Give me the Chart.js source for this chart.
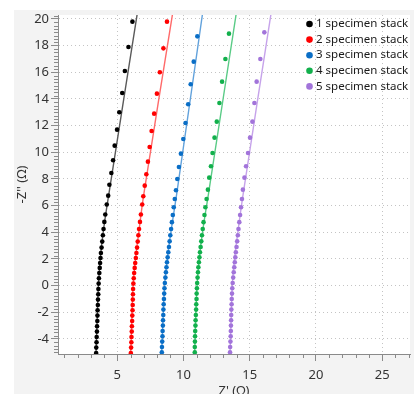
<!DOCTYPE html>
<html>
<head>
<meta charset="utf-8">
<script src="https://cdn.jsdelivr.net/npm/chart.js@4.4.0/dist/chart.umd.min.js"></script>
<style>
html, body { margin: 0; padding: 0; background: #fff; }
</style>
</head>
<body>
<canvas id="eis" width="414" height="394"></canvas>
<script>
// measured points, -Z'' vs Z'
var labels = ['1 specimen stack', '2 specimen stack', '3 specimen stack', '4 specimen stack', '5 specimen stack']

var s1Y = [-5.05,-4.65,-4.25,-3.85,-3.45,-3.05,-2.65,-2.25,-1.85,-1.45,-1.05,-0.65,-0.25,0.15,0.55,0.95,1.33,1.7,2.07,2.45,2.85,3.3,3.78,4.25,4.78,5.33,6.08,6.75,7.57,8.45,9.4,10.5,11.7,13.0,14.45,16.1,17.9,19.8]
var s1X = [3.40,3.41,3.43,3.44,3.46,3.47,3.49,3.50,3.51,3.53,3.54,3.56,3.57,3.59,3.61,3.64,3.67,3.70,3.73,3.76,3.81,3.86,3.91,3.96,4.02,4.09,4.20,4.31,4.40,4.55,4.68,4.80,4.98,5.15,5.37,5.57,5.84,6.14]

var s2Y = [-5.05,-4.65,-4.25,-3.85,-3.45,-3.05,-2.65,-2.25,-1.85,-1.45,-1.05,-0.65,-0.25,0.15,0.55,0.95,1.33,1.7,2.07,2.45,2.85,3.3,3.78,4.25,4.78,5.33,6.08,6.7,7.5,8.35,9.3,10.4,11.6,12.9,14.4,16.0,17.8,19.8]
var s2X = [6.02,6.04,6.06,6.07,6.09,6.10,6.12,6.13,6.15,6.16,6.17,6.18,6.19,6.21,6.24,6.27,6.31,6.35,6.40,6.44,6.49,6.54,6.59,6.64,6.71,6.78,6.88,6.96,7.07,7.19,7.31,7.44,7.59,7.78,7.99,8.21,8.48,8.75]

var s3Y = [-5.0,-4.6,-4.2,-3.8,-3.4,-3.0,-2.6,-2.2,-1.8,-1.4,-1.0,-0.6,-0.2,0.2,0.6,1.0,1.38,1.75,2.12,2.5,2.9,3.32,3.78,4.25,4.76,5.3,5.88,6.5,7.15,8.0,8.9,9.9,11.0,12.2,13.6,15.1,16.8,18.7]
var s3X = [8.36,8.37,8.39,8.41,8.42,8.44,8.45,8.47,8.48,8.50,8.52,8.54,8.56,8.59,8.63,8.67,8.71,8.75,8.80,8.85,8.90,8.95,9.00,9.06,9.12,9.19,9.26,9.34,9.43,9.53,9.65,9.80,9.98,10.15,10.35,10.54,10.77,11.04]

var s4Y = [-5.0,-4.6,-4.2,-3.8,-3.4,-3.0,-2.6,-2.2,-1.8,-1.4,-1.0,-0.6,-0.2,0.2,0.6,1.0,1.38,1.75,2.12,2.5,2.9,3.32,3.78,4.25,4.76,5.3,5.88,6.5,7.2,8.1,8.95,9.95,11.1,12.3,13.7,15.3,17.0,18.9]
var s4X = [10.85,10.85,10.86,10.87,10.88,10.90,10.91,10.93,10.95,10.96,10.98,10.99,11.01,11.03,11.06,11.09,11.12,11.16,11.20,11.24,11.29,11.34,11.39,11.45,11.51,11.58,11.65,11.74,11.84,11.94,12.07,12.19,12.34,12.51,12.71,12.91,13.16,13.43]

var s5Y = [-5.0,-4.6,-4.2,-3.8,-3.4,-3.0,-2.6,-2.2,-1.8,-1.4,-1.0,-0.6,-0.2,0.2,0.6,1.0,1.38,1.75,2.12,2.5,2.9,3.32,3.78,4.25,4.76,5.3,5.88,6.5,7.2,8.1,8.95,9.95,11.1,12.3,13.7,15.3,17.0,19.0]
var s5X = [13.51,13.52,13.54,13.56,13.57,13.58,13.59,13.60,13.61,13.63,13.64,13.66,13.68,13.71,13.75,13.79,13.83,13.87,13.91,13.95,14.00,14.05,14.10,14.15,14.21,14.27,14.34,14.41,14.48,14.60,14.72,14.87,15.02,15.20,15.35,15.52,15.80,16.10]

// fitted curves
var fitY = [-5.3, -3, 0, 2, 4, 7, 21]
var fit1X = [3.38, 3.46, 3.57, 3.71, 3.93, 4.38, 6.60]
var fit2X = [6.00, 6.08, 6.19, 6.37, 6.62, 7.02, 9.27]
var fit3X = [8.34, 8.43, 8.57, 8.77, 9.04, 9.50, 11.52]
var fit4X = [10.84, 10.90, 11.02, 11.18, 11.43, 11.90, 14.07]
var fit5X = [13.50, 13.58, 13.68, 13.85, 14.10, 14.52, 16.70]

var xTicks = [5, 10, 15, 20, 25]
var yTicks = [-4, -2, 0, 2, 4, 6, 8, 10, 12, 14, 16, 18, 20]

var dotColors = ['#000000', '#ff0000', '#0a6ec6', '#12b04c', '#a274da']
var lineColors = ['#5a5a5a', '#ff6a6a', '#62a2dc', '#5acb86', '#c6a3ea']

function pts(xs, ys) {
    var out = []
    for (let i in xs) out.push({x: xs[i], y: ys[i]})
    return out
}

var pointSets = [pts(s1X, s1Y), pts(s2X, s2Y), pts(s3X, s3Y), pts(s4X, s4Y), pts(s5X, s5Y)]
var fitSets = [pts(fit1X, fitY), pts(fit2X, fitY), pts(fit3X, fitY), pts(fit4X, fitY), pts(fit5X, fitY)]

var datasets = []
for (let i = 0; i < 5; i++) {
    datasets.push({
        label: labels[i],
        data: pointSets[i],
        showLine: false,
        pointRadius: 2.3,
        pointBorderWidth: 0,
        backgroundColor: dotColors[i],
        borderColor: dotColors[i],
        order: 0
    })
    datasets.push({
        label: labels[i] + ' fit',
        data: fitSets[i],
        showLine: true,
        pointRadius: 0,
        borderWidth: 1.4,
        borderColor: lineColors[i],
        tension: 0.4,
        order: 1
    })
}

var font = '"Segoe UI", "Noto Sans", sans-serif'
var axisGray = '#8a8a8a'

var panel = {
    id: 'panel',
    beforeDraw(chart) {
        var ctx = chart.ctx, a = chart.chartArea
        ctx.save()
        ctx.fillStyle = '#ffffff'
        ctx.fillRect(0, 0, chart.width, chart.height)
        ctx.fillStyle = '#f3f3f3'
        ctx.fillRect(14, 10, chart.width - 14, chart.height - 10)
        ctx.fillStyle = '#ffffff'
        ctx.fillRect(a.left, a.top, a.right - a.left, a.bottom - a.top)
        ctx.restore()
    }
}

var minorTicks = {
    id: 'minorTicks',
    afterDraw(chart) {
        var ctx = chart.ctx, a = chart.chartArea, x = chart.scales.x, y = chart.scales.y
        ctx.save()
        ctx.strokeStyle = axisGray
        ctx.lineWidth = 1
        ctx.beginPath()
        for (let v = 1; v <= 27; v++) {
            if (v % 5 === 0) continue
            var px = Math.round(x.getPixelForValue(v)) + 0.5
            ctx.moveTo(px, a.bottom)
            ctx.lineTo(px, a.bottom + 4)
        }
        for (let k = -21; k <= 81; k++) {
            var v = k * 0.25
            if (v < y.min || v > y.max || v % 2 === 0) continue
            var py = Math.round(y.getPixelForValue(v)) + 0.5
            ctx.moveTo(a.left - 4, py)
            ctx.lineTo(a.left, py)
        }
        ctx.stroke()
        ctx.restore()
    }
}

var legendBox = {
    id: 'legendBox',
    afterDraw(chart) {
        var ctx = chart.ctx
        ctx.save()
        ctx.font = '11.5px ' + font
        ctx.textBaseline = 'middle'
        for (let i = 0; i < 5; i++) {
            var ry = 24 + i * 15.6
            ctx.fillStyle = dotColors[i]
            ctx.beginPath()
            ctx.arc(309.5, ry, 3.3, 0, Math.PI * 2)
            ctx.fill()
            ctx.fillStyle = '#1a1a1a'
            ctx.fillText(labels[i], 316, ry)
        }
        ctx.restore()
    }
}

new Chart('eis', {
    type: 'scatter',
    data: { datasets: datasets },
    plugins: [panel, minorTicks, legendBox],
    options: {
        responsive: false,
        animation: false,
        layout: { padding: { left: 14, top: 15, right: 0, bottom: 0 } },
        plugins: {
            legend: { display: false },
            tooltip: { enabled: false }
        },
        scales: {
            x: {
                min: 0.52,
                max: 27.1,
                afterBuildTicks: function (axis) { axis.ticks = xTicks.map(v => ({value: v})) },
                afterFit: function (axis) { axis.height = 40 },
                ticks: { color: '#333333', font: { family: font, size: 13 }, padding: 6, maxRotation: 0 },
                grid: { color: '#c4c4c4', tickColor: axisGray, tickLength: 7 },
                border: { color: axisGray, dash: [1, 3] },
                title: { display: true, text: "Z' (Ω)", color: '#333333', font: { family: font, size: 13 }, padding: { top: 0, bottom: -5 } }
            },
            y: {
                min: -5.13,
                max: 20.3,
                afterBuildTicks: function (axis) { axis.ticks = yTicks.map(v => ({value: v})) },
                afterFit: function (axis) { axis.width = 44 },
                ticks: { color: '#333333', font: { family: font, size: 13 }, padding: 2 },
                grid: { color: '#c4c4c4', tickColor: axisGray, tickLength: 7 },
                border: { color: axisGray, dash: [1, 3] },
                title: { display: true, text: "-Z'' (Ω)", color: '#333333', font: { family: font, size: 13 }, padding: { top: 0, bottom: 0 } }
            }
        }
    }
})
</script>
</body>
</html>
